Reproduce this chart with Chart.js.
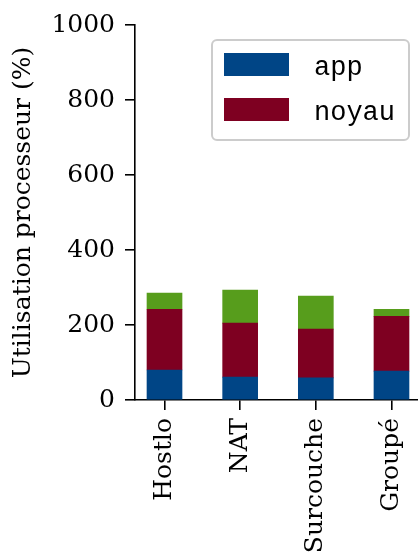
<!DOCTYPE html>
<html>
<head>
<meta charset="utf-8">
<script src="https://cdn.jsdelivr.net/npm/chart.js@4/dist/chart.umd.min.js"></script>
<style>
html,body{margin:0;padding:0;background:#fff;overflow:hidden;width:418px;height:556px;}
#wrap{width:430px;height:556px;}
</style>
</head>
<body>
<div id="wrap"><canvas id="c" width="430" height="556"></canvas></div>
<script>
const categories = ['Hostlo', 'NAT', 'Surcouche', 'Groupé'];
const appValues = [80, 61, 59, 77];
const noyauValues = [162, 144, 130, 146];
const autreValues = [43, 88, 88, 19];
const yTicks = [0, 200, 400, 600, 800, 1000];

const SERIF = '"DejaVu Serif", "Liberation Serif", serif';
const MONO = '"Liberation Mono", "DejaVu Sans Mono", monospace';

const toPoints = arr => arr.map((v, i) => ({x: i, y: v}));

const legendBox = {
  id: 'legendBox',
  afterDraw(chart) {
    const ctx = chart.ctx;
    const items = chart.data.datasets.filter(d => d.label);
    ctx.save();
    const x0 = 212, y0 = 40, w = 197, h = 100;
    ctx.fillStyle = 'rgba(255,255,255,0.8)';
    ctx.strokeStyle = '#cccccc';
    ctx.lineWidth = 2;
    ctx.beginPath();
    ctx.roundRect(x0, y0, w, h, 5);
    ctx.fill();
    ctx.stroke();
    ctx.font = '27px ' + MONO;
    ctx.textBaseline = 'alphabetic';
    items.forEach((d, i) => {
      const yy = 53 + i * 45;
      ctx.fillStyle = d.backgroundColor;
      ctx.fillRect(224, yy, 65, 23);
      ctx.fillStyle = '#000';
      ctx.fillText(d.label, 314, yy + 22);
    });
    ctx.restore();
  }
};

new Chart(document.getElementById('c'), {
  type: 'bar',
  data: {
    datasets: [
      {label: 'app', data: toPoints(appValues), backgroundColor: '#004586', barThickness: 35},
      {label: 'noyau', data: toPoints(noyauValues), backgroundColor: '#7e0021', barThickness: 35},
      {label: '', data: toPoints(autreValues), backgroundColor: '#579d1c', barThickness: 35}
    ]
  },
  options: {
    responsive: false,
    animation: false,
    layout: {autoPadding: false, padding: {top: 24, right: 5, left: 0, bottom: 0}},
    plugins: {legend: {display: false}, tooltip: {enabled: false}},
    scales: {
      x: {
        type: 'linear',
        stacked: true,
        offset: false,
        min: -0.39,
        max: 3.39,
        afterBuildTicks: s => { s.ticks = categories.map((_, i) => ({value: i})); },
        afterFit: s => { s.height = 156; },
        ticks: {
          callback: v => categories[v] ?? '',
          minRotation: 90, maxRotation: 90,
          autoSkip: false,
          padding: 8,
          color: '#000',
          font: {family: SERIF, size: 25}
        },
        grid: {display: true, offset: false, drawOnChartArea: false, tickLength: 10, color: '#000', lineWidth: 1.6},
        border: {display: true, color: '#000', width: 1.6}
      },
      y: {
        stacked: true,
        min: 0,
        max: 1000,
        afterBuildTicks: s => { s.ticks = yTicks.map(v => ({value: v})); },
        afterFit: s => { s.width = 135; },
        ticks: {
          callback: v => String(v),
          padding: 10,
          color: '#000',
          font: {family: SERIF, size: 25}
        },
        grid: {display: true, drawOnChartArea: false, tickLength: 10, color: '#000', lineWidth: 1.6},
        border: {display: true, color: '#000', width: 1.6},
        title: {
          display: true,
          text: 'Utilisation processeur (%)',
          color: '#000',
          padding: {top: 8, bottom: 4},
          font: {family: SERIF, size: 25}
        }
      }
    }
  },
  plugins: [legendBox]
});
</script>
</body>
</html>
